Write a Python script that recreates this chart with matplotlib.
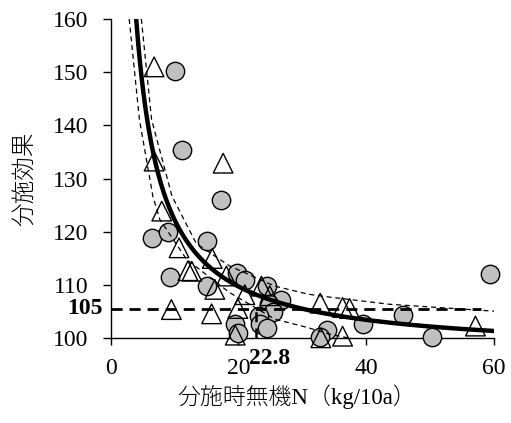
import numpy as np
import matplotlib
matplotlib.use("Agg")
import matplotlib.pyplot as plt
import matplotlib.transforms as mtransforms

# datos
circ_x = [10.0, 11.2, 17.2, 6.4, 9.0, 15.1, 9.3, 15.0, 19.7, 21.0, 24.4, 26.6,
          24.8, 25.4, 23.2, 23.3, 24.5, 19.4, 19.9, 33.8, 32.8, 39.5, 45.7, 50.3, 59.4]
circ_y = [150.3, 135.4, 125.9, 118.8, 119.9, 118.2, 111.5, 109.9, 112.2, 110.9, 109.8, 107.2,
          106.5, 105.0, 104.1, 102.6, 101.9, 102.7, 101.0, 101.6, 100.3, 102.6, 104.3, 100.3, 112.1]

tri_x = [6.8, 6.8, 17.6, 8.0, 10.7, 12.1, 12.7, 15.9, 16.3, 18.1, 9.5, 15.8, 19.9,
         19.5, 21.0, 23.6, 24.9, 32.8, 36.3, 37.4, 32.9, 36.3, 57.1]
tri_y = [151.0, 133.3, 132.9, 123.9, 117.0, 112.7, 112.6, 115.0, 109.2, 111.7, 105.4, 104.6, 105.6,
         100.6, 108.2, 109.8, 108.0, 106.6, 105.8, 105.6, 100.1, 100.4, 102.3]

# curva ajustada y = a + b / x
fit_a = 97.2
fit_b = 250.7
fit_xmin, fit_xmax = 3.0, 60.0

# bandas de confianza (leidas)
up_x = [4.8, 6.4, 9.6, 13.4, 18.6, 25.7, 30.9, 33.2, 43.6, 60.0]
up_y = [160.0, 141.1, 126.7, 117.8, 113.6, 109.8, 108.3, 107.9, 106.4, 105.1]
lo_x = [2.9, 4.5, 6.6, 7.7, 11.9, 18.6, 25.7, 30.9, 34.2, 37.5, 40.0]
lo_y = [160.0, 141.1, 126.7, 122.3, 114.8, 108.6, 103.6, 102.0, 100.8, 100.0, 99.5]

umbral_y = 105.6
umbral_x = 22.8

serif = "Liberation Serif"
jp = ["Liberation Serif", "Noto Sans CJK JP"]

fig = plt.figure(figsize=(5.11, 4.23), dpi=100)
ax = fig.add_axes([0.2166, 0.2002, 0.7501, 0.7550])

ax.scatter(circ_x, circ_y, s=175, facecolor="#c0c0c0", edgecolor="black",
           linewidth=1.0, zorder=3, clip_on=False)
ax.scatter(tri_x, tri_y, s=200, marker="^", facecolor="none", edgecolor="black",
           linewidth=1.0, zorder=4, clip_on=False)

xs = np.linspace(fit_xmin, fit_xmax, 400)
ax.plot(xs, fit_a + fit_b / xs, color="black", lw=3.2, zorder=6)
ax.plot(up_x, up_y, color="black", lw=0.9, ls=(0, (4, 3)), zorder=5)
ax.plot(lo_x, lo_y, color="black", lw=0.9, ls=(0, (4, 3)), zorder=5)

ax.plot([0, 58], [umbral_y, umbral_y], color="black", lw=2.0, ls=(0, (4, 2.5)), zorder=7)
ax.plot([umbral_x, umbral_x], [100, umbral_y], color="black", lw=1.8, ls=(0, (4, 2.5)), zorder=7)

ax.set_xlim(0, 60)
ax.set_ylim(100, 160)
ax.set_xticks([0, 20, 40, 60])
ax.set_yticks([100, 110, 120, 130, 140, 150, 160])
ax.spines["top"].set_visible(False)
ax.spines["right"].set_visible(False)
for s in ["left", "bottom"]:
    ax.spines[s].set_linewidth(1.0)
ax.tick_params(axis="y", direction="out", length=6, width=1.0, pad=10)
ax.tick_params(axis="x", direction="out", length=5, width=1.0, pad=9)
for lab in ax.get_xticklabels() + ax.get_yticklabels():
    lab.set_fontfamily(serif)
    lab.set_fontsize(17)

ax.text(-1.2, umbral_y, "105", ha="right", va="center", fontsize=17,
        fontweight="bold", family=serif, clip_on=False)
trans = mtransforms.blended_transform_factory(ax.transData, ax.transAxes)
ax.text(21.7, -0.062, "22.8", transform=trans, ha="left", va="center",
        fontsize=17, fontweight="bold", family=serif, clip_on=False)

ax.set_xlabel("分施時無機N（kg/10a）", fontsize=16.5, family=jp, fontweight="light")
ax.xaxis.set_label_coords(0.485, -0.145)
ax.set_ylabel("分施効果", fontsize=17, family=jp, fontweight="light")
ax.yaxis.set_label_coords(-0.195, 0.5)

fig.savefig("out.png", dpi=100)
